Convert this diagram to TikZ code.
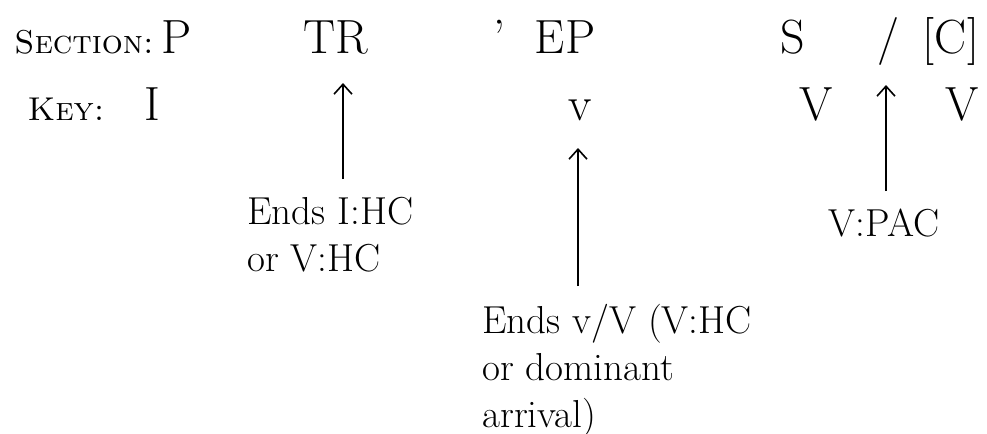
\documentclass[tikz,border=0pt]{standalone}
\usepackage{tikz}
\usetikzlibrary{arrows.meta,positioning}
\tikzset{
form/.style={x=0.5pt,y=0.5pt},
tag/.style={font=\fontsize{16.5}{20}\selectfont\scshape,inner sep=0pt},
letter/.style={font=\fontsize{24}{28}\selectfont,inner sep=0pt},
note/.style={font=\fontsize{19.5}{23.5}\selectfont,align=left,inner sep=0pt},
pointer/.style={-{Straight Barb[length=5pt,width=9pt]},line width=0.8pt,shorten <=9pt},
}

\begin{document}
\begin{tikzpicture}[form]
\useasboundingbox (0,0) rectangle (987,-434);
% section row
\node[tag,anchor=base west] (section) at (14,-53) {Section:};
\node[letter,anchor=base] (secP) at (177,-53) {P};
\node[letter,anchor=base] (secTR) at (336,-53) {TR};
\node[letter,anchor=base] (secQ) at (499,-53) {'};
\node[letter,anchor=base] (secEP) at (565,-53) {EP};
\node[letter,anchor=base] (secS) at (793,-53) {S};
\node[letter,anchor=base] (secSl) at (889,-53) {/};
\node[letter,anchor=base] (secC) at (951,-53) {[C]};
% key row
\node[tag,anchor=base] (key) at (66,-120) {Key:};
\node[letter,anchor=base] (keyI) at (152,-120) {I};
\node[letter,anchor=base] (keyv) at (580,-120) {v};
\node[letter,anchor=base] (keyV) at (816,-120) {V};
\node[letter,anchor=base] (keyVV) at (962,-120) {V};
% notes
\node[note,anchor=north west] (noteTR) at (247,-197) {Ends I:HC\\or V:HC};
\node[note,anchor=north west] (noteEP) at (482,-304) {Ends v/V (V:HC\\or dominant\\arrival)};
\node[note,anchor=north] (noteC) at (884,-209) {V:PAC};
\coordinate (tipTR) at (343,-83);
\coordinate (tipEP) at (578,-148);
\coordinate (tipC) at (886,-85);
\draw[pointer] (noteTR.north -| tipTR) -- (tipTR);
\draw[pointer] (noteEP.north -| tipEP) -- (tipEP);
\draw[pointer] (noteC.north -| tipC) -- (tipC);
\end{tikzpicture}
\end{document}
